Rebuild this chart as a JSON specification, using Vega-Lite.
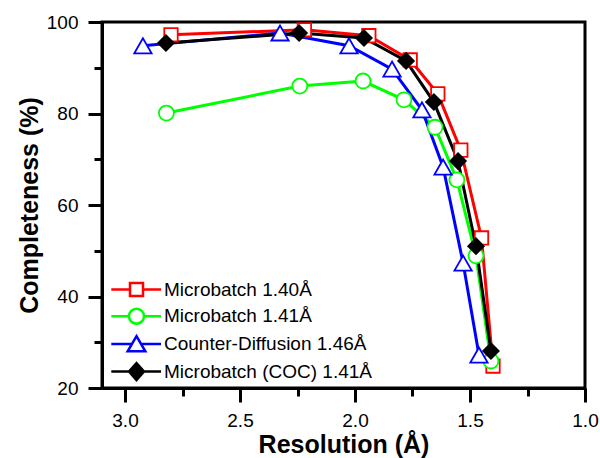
{
  "$schema": "https://vega.github.io/schema/vega-lite/v6.json",
  "width": 483,
  "height": 366,
  "autosize": {"type": "none"},
  "padding": {"left": 102, "top": 22, "right": 15, "bottom": 70},
  "background": "white",
  "config": {
    "font": "Liberation Sans",
    "view": {"stroke": "black", "strokeWidth": 3},
    "axis": {"grid": false, "domainColor": "black", "tickColor": "black", "labelColor": "black", "titleColor": "black", "labelFont": "Liberation Sans", "titleFont": "Liberation Sans"}
  },
  "data": {
    "values": [
      {"s": "Microbatch 1.40Å", "x": 2.80, "y": 97.2},
      {"s": "Microbatch 1.40Å", "x": 2.22, "y": 98.3},
      {"s": "Microbatch 1.40Å", "x": 1.94, "y": 97.0},
      {"s": "Microbatch 1.40Å", "x": 1.76, "y": 91.7},
      {"s": "Microbatch 1.40Å", "x": 1.64, "y": 84.3},
      {"s": "Microbatch 1.40Å", "x": 1.54, "y": 72.0},
      {"s": "Microbatch 1.40Å", "x": 1.45, "y": 52.8},
      {"s": "Microbatch 1.40Å", "x": 1.40, "y": 24.8},
      {"s": "Microbatch 1.41Å", "x": 2.82, "y": 80.1},
      {"s": "Microbatch 1.41Å", "x": 2.24, "y": 86.0},
      {"s": "Microbatch 1.41Å", "x": 1.965, "y": 87.1},
      {"s": "Microbatch 1.41Å", "x": 1.787, "y": 83.0},
      {"s": "Microbatch 1.41Å", "x": 1.652, "y": 77.0},
      {"s": "Microbatch 1.41Å", "x": 1.557, "y": 65.5},
      {"s": "Microbatch 1.41Å", "x": 1.474, "y": 48.9},
      {"s": "Microbatch 1.41Å", "x": 1.409, "y": 25.9},
      {"s": "Counter-Diffusion 1.46Å", "x": 2.922, "y": 94.8},
      {"s": "Counter-Diffusion 1.46Å", "x": 2.326, "y": 97.6},
      {"s": "Counter-Diffusion 1.46Å", "x": 2.026, "y": 94.8},
      {"s": "Counter-Diffusion 1.46Å", "x": 1.839, "y": 89.7},
      {"s": "Counter-Diffusion 1.46Å", "x": 1.709, "y": 80.8},
      {"s": "Counter-Diffusion 1.46Å", "x": 1.617, "y": 68.3},
      {"s": "Counter-Diffusion 1.46Å", "x": 1.530, "y": 47.3},
      {"s": "Counter-Diffusion 1.46Å", "x": 1.461, "y": 27.2},
      {"s": "Microbatch (COC) 1.41Å", "x": 2.822, "y": 95.4},
      {"s": "Microbatch (COC) 1.41Å", "x": 2.243, "y": 97.6},
      {"s": "Microbatch (COC) 1.41Å", "x": 1.961, "y": 96.5},
      {"s": "Microbatch (COC) 1.41Å", "x": 1.778, "y": 91.5},
      {"s": "Microbatch (COC) 1.41Å", "x": 1.657, "y": 82.5},
      {"s": "Microbatch (COC) 1.41Å", "x": 1.552, "y": 69.6},
      {"s": "Microbatch (COC) 1.41Å", "x": 1.474, "y": 51.0},
      {"s": "Microbatch (COC) 1.41Å", "x": 1.409, "y": 28.1}
    ]
  },
  "resolve": {"axis": {"x": "independent", "y": "independent"}},
  "layer": [
    {
      "mark": {"type": "line", "strokeWidth": 3},
      "encoding": {
        "x": {"field": "x", "type": "quantitative",
          "scale": {"domain": [1.0, 3.1], "reverse": true, "nice": false, "zero": false},
          "axis": {"orient": "bottom", "values": [3.0, 2.5, 2.0, 1.5, 1.0], "format": ".1f", "tickSize": 14, "tickWidth": 3, "domainWidth": 3, "labelFontSize": 19, "labelPadding": 9, "labelFlush": false, "labelOverlap": false, "title": "Resolution (Å)", "titleFontSize": 25, "titleFontWeight": "bold", "titlePadding": 2}},
        "y": {"field": "y", "type": "quantitative",
          "scale": {"domain": [20, 100], "nice": false, "zero": false},
          "axis": {"orient": "left", "values": [20, 40, 60, 80, 100], "tickSize": 14, "tickWidth": 3, "domainWidth": 3, "labelFontSize": 19, "labelPadding": 10, "labelFlush": false, "labelOverlap": false, "title": "Completeness (%)", "titleFontSize": 25, "titleFontWeight": "bold", "titlePadding": 4}},
        "color": {"field": "s", "type": "nominal",
          "scale": {"domain": ["Microbatch 1.40Å", "Microbatch 1.41Å", "Counter-Diffusion 1.46Å", "Microbatch (COC) 1.41Å"], "range": ["#ff0000", "#00ff00", "#0000ff", "#000000"]},
          "legend": {
            "title": null, "orient": "none", "legendX": 25, "legendY": 258, "padding": 0,
            "symbolSize": 196, "symbolStrokeWidth": 2.5, "labelFontSize": 19, "labelFont": "Liberation Sans", "labelColor": "black", "labelOffset": 18, "rowPadding": 1.7, "labelLimit": 400,
            "encode": {"symbols": {"update": {
              "shape": {"signal": "datum.value === 'Microbatch 1.40Å' ? 'M-3.6,0L-0.93,0M0.93,0L3.5,0M-0.93,-0.93L0.93,-0.93L0.93,0.93L-0.93,0.93Z' : datum.value === 'Microbatch 1.41Å' ? 'M-3.6,0L-1.07,0M1.07,0L3.5,0M-1.07,0A1.07,1.07 0 1,0 1.07,0A1.07,1.07 0 1,0 -1.07,0Z' : datum.value === 'Counter-Diffusion 1.46Å' ? 'M-3.6,0L-0.75,0M0.75,0L3.5,0M0,-1.1L1.26,1.05L-1.26,1.05Z' : 'M-3.6,0L-1.07,0M1.07,0L3.5,0M0,-1.2L1.07,0L0,1.2L-1.07,0Z'"},
              "fill": {"signal": "datum.value === 'Microbatch (COC) 1.41Å' ? 'black' : 'white'"},
              "fillOpacity": {"value": 1},
              "strokeWidth": {"value": 2.5}
            }}}
          }}
      }
    },
    {
      "transform": [{"filter": "datum.s === 'Microbatch 1.40Å'"}],
      "mark": {"type": "point", "shape": "square", "size": 180, "filled": false, "fill": "white", "fillOpacity": 1, "stroke": "#ff0000", "strokeWidth": 1.8, "opacity": 1},
      "encoding": {
        "x": {"field": "x", "type": "quantitative",
          "axis": {"orient": "bottom", "values": [2.75, 2.25, 1.75, 1.25], "tickSize": 8, "tickWidth": 3, "domain": false, "labels": false, "title": null}},
        "y": {"field": "y", "type": "quantitative",
          "axis": {"orient": "left", "values": [30, 50, 70, 90], "tickSize": 8, "tickWidth": 3, "domain": false, "labels": false, "title": null}}
      }
    },
    {
      "transform": [{"filter": "datum.s === 'Microbatch 1.41Å'"}],
      "mark": {"type": "point", "shape": "circle", "size": 225, "filled": false, "fill": "white", "fillOpacity": 1, "stroke": "#00ff00", "strokeWidth": 1.8, "opacity": 1},
      "encoding": {
        "x": {"field": "x", "type": "quantitative", "axis": null},
        "y": {"field": "y", "type": "quantitative", "axis": null}
      }
    },
    {
      "transform": [{"filter": "datum.s === 'Counter-Diffusion 1.46Å'"}],
      "mark": {"type": "point", "shape": "triangle-up", "size": 300, "filled": false, "fill": "white", "fillOpacity": 1, "stroke": "#0000ff", "strokeWidth": 1.8, "opacity": 1},
      "encoding": {
        "x": {"field": "x", "type": "quantitative", "axis": null},
        "y": {"field": "y", "type": "quantitative", "axis": null}
      }
    },
    {
      "transform": [{"filter": "datum.s === 'Microbatch (COC) 1.41Å'"}],
      "mark": {"type": "point", "shape": "diamond", "size": 256, "filled": true, "fill": "black", "fillOpacity": 1, "stroke": "black", "strokeWidth": 1.5, "opacity": 1},
      "encoding": {
        "x": {"field": "x", "type": "quantitative", "axis": null},
        "y": {"field": "y", "type": "quantitative", "axis": null}
      }
    }
  ]
}
